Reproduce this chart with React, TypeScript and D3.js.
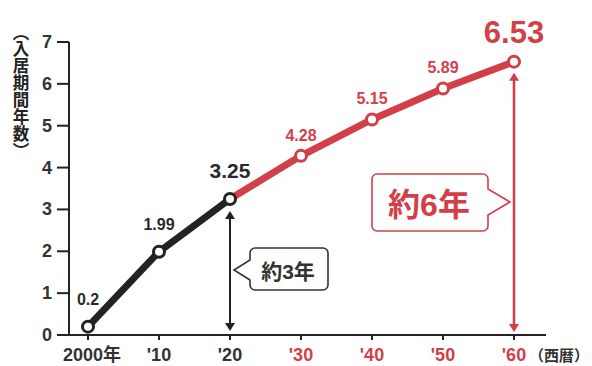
import React from "react";
import * as d3 from "d3";

const years = [2000, 2010, 2020, 2030, 2040, 2050, 2060];
const values = [0.2, 1.99, 3.25, 4.28, 5.15, 5.89, 6.53];
const valueLabels = ["0.2", "1.99", "3.25", "4.28", "5.15", "5.89", "6.53"];
const xTickLabels = ["2000年", "'10", "'20", "'30", "'40", "'50", "'60"];
const yTicks = [0, 1, 2, 3, 4, 5, 6, 7];
const yTitle = "（入居期間年数）";
const xUnit = "（西暦）";
const callout3 = "約3年";
const callout6 = "約6年";
const splitYear = 2020;

const RED = "#d23f49";
const BLACK = "#232323";
const FONT = "'Liberation Sans', Arial, 'Noto Sans CJK JP', sans-serif";

function calloutPath(x0: number, y0: number, x1: number, y1: number, r: number, side: "left" | "right", tipX: number, tipY: number, halfBase: number) {
  const p = d3.path();
  p.moveTo(x0 + r, y0);
  p.lineTo(x1 - r, y0);
  p.arcTo(x1, y0, x1, y0 + r, r);
  if (side === "right") {
    p.lineTo(x1, tipY - halfBase);
    p.lineTo(tipX, tipY);
    p.lineTo(x1, tipY + halfBase);
  }
  p.lineTo(x1, y1 - r);
  p.arcTo(x1, y1, x1 - r, y1, r);
  p.lineTo(x0 + r, y1);
  p.arcTo(x0, y1, x0, y1 - r, r);
  if (side === "left") {
    p.lineTo(x0, tipY + halfBase);
    p.lineTo(tipX, tipY);
    p.lineTo(x0, tipY - halfBase);
  }
  p.lineTo(x0, y0 + r);
  p.arcTo(x0, y0, x0 + r, y0, r);
  p.closePath();
  return p.toString();
}

export default function App() {
  const W = 592, H = 366;
  const x = d3.scaleLinear().domain([2000, 2060]).range([88, 514]);
  const y = d3.scaleLinear().domain([0, 7]).range([335, 42]);
  const axisX0 = 69;
  const data = years.map((yr, i) => ({ yr, v: values[i], label: valueLabels[i], tick: xTickLabels[i] }));
  const line = d3.line<{ yr: number; v: number }>().x(d => x(d.yr)).y(d => y(d.v));
  const blackData = data.filter(d => d.yr <= splitYear);
  const redData = data.filter(d => d.yr >= splitYear);

  const xA = x(2020);
  const yA = y(values[2]);
  const xB = x(2060);
  const yB = y(values[6]);
  const base = y(0);

  const arrowHead = (cx: number, cy: number, dir: 1 | -1, color: string) => {
    const p = d3.path();
    p.moveTo(cx, cy);
    p.lineTo(cx - 5, cy + dir * 8);
    p.lineTo(cx + 5, cy + dir * 8);
    p.closePath();
    return <path d={p.toString()} fill={color} />;
  };

  return (
    <svg width={W} height={H} style={{ position: "absolute", left: 0, top: 0, background: "#fff" }} fontFamily={FONT}>
      <rect width={W} height={H} fill="#fff" />
      {/* y title (vertical) */}
      <text x={21} y={32} fontFamily="'Noto Sans CJK JP', sans-serif" fontSize={16.5} fontWeight={700} fill={BLACK}
        letterSpacing={0.5}
        style={{ writingMode: "vertical-rl" as any, fontFeatureSettings: '"vpal" 1' } as any}>
        {yTitle}
      </text>
      {/* y axis */}
      <line x1={axisX0} x2={axisX0} y1={y(7)} y2={base} stroke={BLACK} strokeWidth={2} />
      {yTicks.map(t => (
        <g key={t}>
          <line x1={57} x2={axisX0} y1={y(t)} y2={y(t)} stroke={BLACK} strokeWidth={2} />
          <text x={52} y={y(t) + 6} textAnchor="end" fontSize={18} fontWeight={700} fill="#333">{t}</text>
        </g>
      ))}
      {/* x axis */}
      <line x1={57} x2={546} y1={base} y2={base} stroke={BLACK} strokeWidth={2} />
      {data.map(d => (
        <g key={d.yr}>
          <line x1={x(d.yr)} x2={x(d.yr)} y1={base} y2={base + 5} stroke={BLACK} strokeWidth={2} />
          <text x={x(d.yr) + (d.yr === 2000 ? 4 : 0)} y={361} textAnchor="middle" fontSize={18} fontWeight={700}
            fill={d.yr > splitYear ? RED : "#333"}>{d.tick}</text>
        </g>
      ))}
      <text x={589} y={361} textAnchor="end" fontSize={15} fontWeight={700} fill="#333">{xUnit}</text>

      {/* arrows */}
      <line x1={xA} x2={xA} y1={yA + 16} y2={base - 8} stroke={BLACK} strokeWidth={2} />
      {arrowHead(xA, yA + 12, 1, BLACK)}
      {arrowHead(xA, base - 4, -1, BLACK)}
      <line x1={xB} x2={xB} y1={yB + 16} y2={base - 8} stroke={RED} strokeWidth={2.5} />
      {arrowHead(xB, yB + 11, 1, RED)}
      {arrowHead(xB, base - 3, -1, RED)}

      {/* callouts */}
      <path d={calloutPath(250, 248, 328, 290, 5, "left", xA + 4, 270, 10)} fill="#fff" stroke="#333" strokeWidth={1.6} />
      <text x={288} y={279} textAnchor="middle" fontSize={21} fontWeight={700} fill="#333">{callout3}</text>
      <path d={calloutPath(372, 174, 488, 231, 5, "right", xB - 4, 202, 13)} fill="#fff" stroke={RED} strokeWidth={1.6} />
      <text x={429} y={216} textAnchor="middle" fontSize={32} fontWeight={700} fill={RED}>{callout6}</text>

      {/* lines */}
      <path d={line(redData) || ""} fill="none" stroke={RED} strokeWidth={7} strokeLinejoin="round" />
      <path d={line(blackData) || ""} fill="none" stroke={BLACK} strokeWidth={7} strokeLinejoin="round" />
      {data.map(d => (
        <circle key={d.yr} cx={x(d.yr)} cy={y(d.v)} r={5.5} fill="#fff" stroke={d.yr > splitYear ? RED : BLACK} strokeWidth={3} />
      ))}
      {/* value labels */}
      {data.map((d, i) => {
        const big = i === data.length - 1;
        const mid = d.yr === splitYear;
        const fs = big ? 31 : mid ? 21 : 16;
        const dy = big ? -19 : mid ? -21 : d.yr < splitYear ? -22 : -15;
        return (
          <text key={d.yr} x={x(d.yr)} y={y(d.v) + dy} textAnchor="middle"
            fontSize={fs} fontWeight={700} fill={d.yr > splitYear ? RED : "#2a2a2a"}>{d.label}</text>
        );
      })}
    </svg>
  );
}
